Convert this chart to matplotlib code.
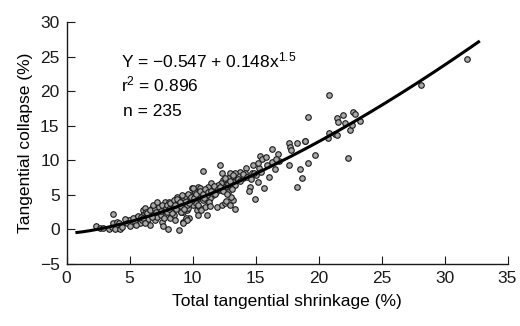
import matplotlib
matplotlib.use("Agg")
import matplotlib.pyplot as plt
import numpy as np

plt.rcParams['font.family'] = ['Liberation Sans', 'DejaVu Sans']
plt.rcParams['mathtext.fontset'] = 'custom'
plt.rcParams['mathtext.rm'] = 'Liberation Sans'
plt.rcParams['mathtext.default'] = 'regular'

# Total tangential shrinkage (%)
shrinkage = [
    2.33, 2.64, 2.86, 3.39, 3.57, 3.70, 3.70, 3.84, 4.02, 4.18, 4.23, 4.97, 5.16,
    5.42, 5.61, 5.82, 5.95, 6.03, 6.08, 6.22, 6.30, 6.35, 6.48, 6.61, 6.67, 6.82,
    6.93, 7.01, 7.14, 7.19, 7.35, 7.46, 7.54, 7.67, 7.80, 7.88, 7.94, 8.07, 8.15,
    8.20, 8.33, 8.41, 8.52, 8.60, 8.68, 8.73, 8.86, 8.94, 8.99, 9.05, 9.21, 9.26,
    9.39, 9.47, 9.58, 9.73, 9.79, 9.92, 10.00, 10.05, 10.18, 10.26, 10.32, 10.45, 10.53,
    10.84, 12.16, 16.34, 17.67, 17.72, 17.85, 18.30, 18.91, 19.70, 19.18, 18.51, 18.65,
    18.30, 17.67, 16.79, 16.87, 16.53, 16.08, 15.66, 15.39, 15.55, 15.82, 15.29, 15.07,
    15.21, 14.94, 14.55, 14.49, 14.81, 14.68, 14.28, 14.15, 14.02, 13.75, 13.62, 13.49,
    13.36, 13.22, 13.09, 12.96, 12.91, 12.83, 12.69, 12.56, 12.43, 12.30, 12.22, 12.16,
    12.03, 11.90, 11.77, 11.64, 11.50, 11.42, 11.37, 11.24, 11.11, 11.05, 10.97, 11.11,
    10.84, 10.71, 10.58, 10.45, 10.31, 10.18, 10.05, 9.92, 9.78, 9.65, 9.52, 9.39,
    9.25, 9.12, 9.47, 9.57, 9.25, 10.63, 10.45, 11.95, 12.30, 12.56, 12.69, 12.96,
    13.22, 13.36, 13.09, 12.83,
    20.85, 19.18, 21.48, 21.96, 21.56, 22.09, 22.70, 22.89, 23.28, 22.49, 22.62, 20.85,
    20.77, 21.30, 21.48, 18.92, 22.36, 28.10, 31.75,
    4.6, 4.8, 5.3, 5.5, 5.7, 5.9, 6.1, 6.2, 4.4, 5.0,
    6.4, 6.6, 6.8, 7.0, 7.1, 7.3, 7.5, 7.6, 7.7, 7.9, 8.0, 6.9, 7.2,
    8.2, 8.4, 8.5, 8.7, 8.8, 9.0, 9.1, 9.3, 9.4, 9.6, 9.7, 9.9, 8.1, 8.6, 9.2,
    10.1, 10.3, 10.4, 10.6, 10.8, 10.9, 11.0, 11.2, 11.3, 11.5, 11.7, 11.8, 12.0, 11.4, 10.7,
    12.2, 12.4, 12.6, 12.8, 13.0, 13.2, 13.4, 13.6, 13.8, 14.0, 12.7, 13.1,
    14.3, 14.6, 14.9, 15.2, 15.4, 15.9, 16.3, 16.6,
]

# Tangential collapse (%)
collapse = [
    0.49, 0.16, 0.16, 0.01, 0.30, 0.88, 2.23, 0.01, 1.12, 0.98, 0.01, 1.36, 0.88,
    1.12, 1.75, 0.98, 1.36, 2.81, 2.09, 3.05, 2.57, 1.12, 1.46, 0.64, 2.09, 3.05,
    2.42, 1.36, 3.29, 1.85, 2.81, 2.09, 1.12, 0.49, 4.02, 2.09, 2.57, 0.01, 4.02,
    1.60, 2.81, 3.29, 2.09, 1.36, 3.77, 4.64, 3.29, -0.08, 3.77, 2.57, 1.12, 2.57,
    4.11, 1.36, 2.81, 1.60, 4.50, 5.95, 3.53, 4.98, 4.26, 5.32, 2.81, 6.19, 4.50,
    8.45, 9.32, 11.59, 12.45, 11.97, 11.49, 12.45, 12.84, 10.76, 9.66, 8.69, 7.39,
    6.09, 9.32, 10.91, 9.95, 8.69, 7.63, 5.94, 10.62, 10.14, 10.52, 8.84, 7.87,
    6.91, 4.35, 6.18, 5.60, 9.32, 8.21, 8.84, 8.11, 7.39, 8.35, 7.73, 7.15,
    8.11, 6.91, 7.63, 8.21, 6.42, 7.39, 6.91, 6.18, 7.15, 8.11, 6.66, 5.70,
    6.42, 5.46, 5.94, 4.98, 6.66, 4.49, 5.70, 6.18, 4.98, 4.25, 3.29, 2.08,
    4.25, 4.98, 5.94, 4.74, 3.77, 5.46, 5.94, 4.25, 4.98, 3.05, 3.53, 4.25,
    4.74, 2.56, 1.60, 1.36, 0.88, 3.05, 2.08, 3.19, 3.53, 3.77, 4.16, 3.53,
    4.25, 2.90, 4.74, 5.46,
    19.50, 16.22, 16.17, 16.55, 15.49, 15.45, 17.04, 16.70, 15.64, 14.38, 15.11, 13.90,
    13.18, 13.76, 13.66, 12.84, 10.28, 20.85, 24.61,
    1.5, 0.9, 1.6, 0.6, 2.0, 1.8, 1.6, 1.0, 0.4, 0.5,
    2.4, 2.8, 1.8, 2.9, 2.5, 3.3, 2.6, 3.6, 1.6, 3.1, 3.5, 3.6, 4.0,
    3.9, 2.4, 4.2, 2.9, 4.4, 4.0, 3.4, 3.0, 4.9, 5.2, 3.8, 4.7, 3.0, 3.5, 5.0,
    4.6, 5.1, 3.5, 5.5, 5.2, 4.6, 5.9, 5.4, 4.0, 5.6, 6.3, 5.1, 5.9, 3.4, 2.8,
    6.2, 5.6, 7.4, 6.6, 7.0, 7.9, 6.4, 7.3, 7.0, 8.0, 5.2, 5.8,
    7.6, 7.3, 8.2, 9.6, 8.3, 9.3, 9.8, 10.2,
]

# Fitted model: Y = a + b * x^p
fit_a, fit_b, fit_p = -0.547, 0.148, 1.5
fit_range = (0.7, 32.8)

x_ticks = [0, 5, 10, 15, 20, 25, 30, 35]
y_ticks = [-5, 0, 5, 10, 15, 20, 25, 30]

FS = 12.5

fig = plt.figure(figsize=(5.2, 3.26), dpi=100)
ax = fig.add_axes([0.128, 0.190, 0.848, 0.7425])

ax.scatter(shrinkage, collapse, s=16, facecolor='#a8a8a8', edgecolor='#1a1a1a',
           linewidth=0.8, zorder=3)

xf = np.linspace(fit_range[0], fit_range[1], 300)
yf = fit_a + fit_b * xf ** fit_p
ax.plot(xf, yf, color='black', lw=2.2, zorder=4, solid_capstyle='butt')

ax.set_xlim(0, 35)
ax.set_ylim(-5, 30)
ax.set_xticks(x_ticks)
ax.set_yticks(y_ticks)
ax.set_xticklabels([str(t) for t in x_ticks])
ax.set_yticklabels([str(t).replace('-', '\u2212') for t in y_ticks])
ax.tick_params(direction='in', length=6, width=0.8, labelsize=FS, pad=5, colors='#1a1a1a')
for s in ['top', 'right']:
    ax.spines[s].set_visible(False)
for s in ['left', 'bottom']:
    ax.spines[s].set_linewidth(1.0)
    ax.spines[s].set_color('#1a1a1a')

ax.set_xlabel('Total tangential shrinkage (%)', fontsize=FS, labelpad=6)
ax.set_ylabel('Tangential collapse (%)', fontsize=FS, labelpad=5)

ax.text(4.3, 24.5, 'Y = \u22120.547 + 0.148x$^{1.5}$', fontsize=FS, va='center')
ax.text(4.3, 21.0, 'r$^{2}$ = 0.896', fontsize=FS, va='center')
ax.text(4.45, 17.1, 'n = 235', fontsize=FS, va='center')

fig.savefig('out.png', dpi=100)
